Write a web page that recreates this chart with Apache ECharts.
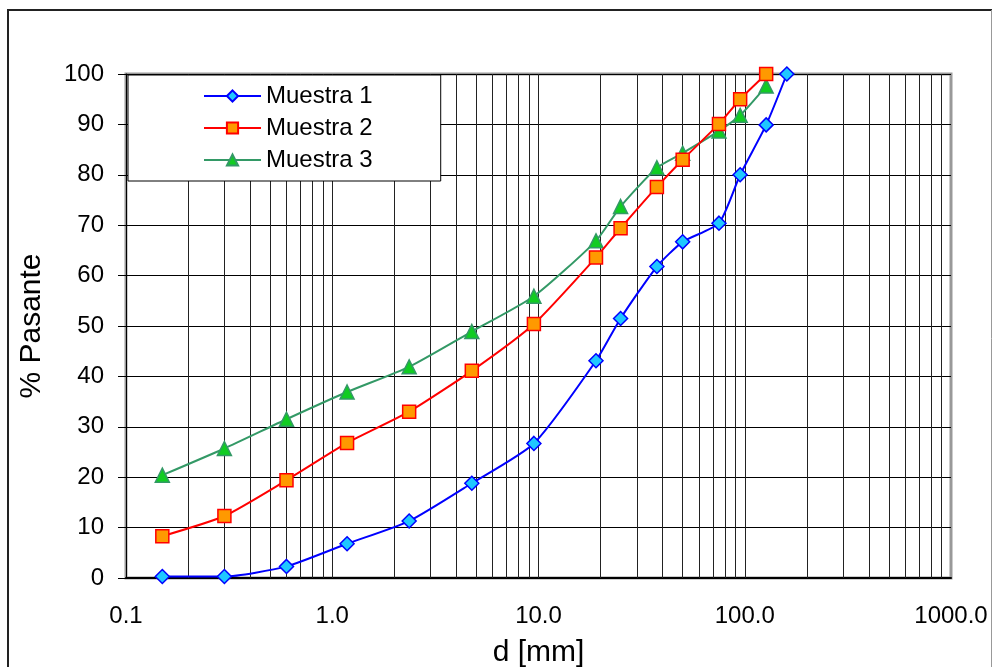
<!DOCTYPE html>
<html>
<head>
<meta charset="utf-8">
<script src="https://cdn.jsdelivr.net/npm/echarts@6/dist/echarts.min.js"></script>
<style>
  html, body { margin: 0; padding: 0; background: #fff; }
  #chart { width: 993px; height: 667px; }
</style>
</head>
<body>
<div id="chart"></div>
<script>
// sieve sizes (mm) and % passing
const sizes1 = [0.15, 0.3, 0.6, 1.18, 2.36, 4.75, 9.5, 19, 25, 37.5, 50, 75, 95, 127, 160];
const pass1 = [0.3, 0.3, 2.3, 6.8, 11.3, 18.8, 26.7, 43.1, 51.5, 61.8, 66.7, 70.4, 80.0, 89.9, 100];

const sizes2 = [0.15, 0.3, 0.6, 1.18, 2.36, 4.75, 9.5, 19, 25, 37.5, 50, 75, 95, 127];
const pass2 = [8.3, 12.3, 19.4, 26.8, 33.0, 41.1, 50.4, 63.6, 69.4, 77.6, 83.0, 90.1, 95.0, 100];

const sizes3 = [0.15, 0.3, 0.6, 1.18, 2.36, 4.75, 9.5, 19, 25, 37.5, 50, 75, 95, 127];
const pass3 = [20.4, 25.7, 31.5, 36.9, 41.9, 48.9, 55.9, 66.9, 73.7, 81.4, 84.3, 88.7, 91.8, 97.6];

const xLabels = { 0.1: "0.1", 1: "1.0", 10: "10.0", 100: "100.0", 1000: "1000.0" };

// vertical grid lines at 1..9 x each decade
const gridX = [];
[0.1, 1, 10, 100].forEach(function (dec) {
  for (let k = 1; k <= 9; k++) {
    if (k === 1 && dec === 0.1) continue;
    gridX.push(+(k * dec).toPrecision(3));
  }
});

const pairs = (xs, ys) => xs.map((x, i) => [x, ys[i]]);

const myChart = echarts.init(document.getElementById("chart"));
const font = "Liberation Sans, Arial, sans-serif";

const option = {
  animation: false,
  // outer chart frame
  graphic: [
    { type: "line", shape: { x1: 7, y1: 10, x2: 992, y2: 10 }, style: { stroke: "#222", lineWidth: 2 }, silent: true },
    { type: "line", shape: { x1: 8, y1: 10, x2: 8, y2: 667 }, style: { stroke: "#222", lineWidth: 2 }, silent: true },
    { type: "line", shape: { x1: 991.5, y1: 10, x2: 991.5, y2: 667 }, style: { stroke: "#999", lineWidth: 1 }, silent: true },
  ],
  grid: {
    left: 126,
    right: 42,
    top: 74,
    bottom: 89,
    outerBoundsMode: "none",
    containLabel: false,
    show: true,
    borderColor: "#999",
    borderWidth: 3,
  },
  legend: {
    orient: "vertical",
    left: 128,
    top: 75,
    padding: [9, 68, 9, 75],
    itemGap: 8,
    itemWidth: 57,
    itemHeight: 14,
    backgroundColor: "#fff",
    borderColor: "#000",
    borderWidth: 1,
    textStyle: { fontFamily: font, fontSize: 24, color: "#000" },
  },
  xAxis: {
    type: "log",
    logBase: 10,
    min: 0.1,
    max: 1000,
    name: "d [mm]",
    nameLocation: "middle",
    nameGap: 60,
    nameTextStyle: { fontFamily: font, fontSize: 30, color: "#000" },
    axisLine: { lineStyle: { color: "#000", width: 2 } },
    axisTick: { show: false },
    splitLine: { show: false },
    axisLabel: {
      margin: 26,
      fontFamily: font,
      fontSize: 24,
      color: "#000",
      formatter: (v) => xLabels[v] || "",
    },
  },
  yAxis: {
    type: "value",
    min: 0,
    max: 100,
    interval: 10,
    name: "% Pasante",
    nameLocation: "middle",
    nameGap: 79,
    nameTextStyle: { fontFamily: font, fontSize: 30, color: "#000" },
    axisLine: { show: true, lineStyle: { color: "#000", width: 1 } },
    axisTick: { show: true, length: 8, lineStyle: { color: "#000" } },
    splitLine: { lineStyle: { color: "#000", width: 1 } },
    axisLabel: { margin: 22, fontFamily: font, fontSize: 24, color: "#000" },
  },
  series: [
    {
      name: "Muestra 1",
      type: "line",
      data: pairs(sizes1, pass1),
      smooth: 0.2,
      symbol: "diamond",
      symbolSize: 14,
      lineStyle: { color: "#0000ff", width: 2 },
      itemStyle: { color: "#1fc8ff", borderColor: "#0000ff", borderWidth: 1.5 },
      z: 5,
      markLine: {
        silent: true,
        symbol: "none",
        label: { show: false },
        lineStyle: { color: "#222", width: 1, type: "solid" },
        data: gridX.map((v) => ({ xAxis: v })),
        z: 1,
      },
    },
    {
      name: "Muestra 2",
      type: "line",
      data: pairs(sizes2, pass2),
      smooth: 0.2,
      symbol: "rect",
      symbolSize: 13,
      lineStyle: { color: "#ff0000", width: 2 },
      itemStyle: { color: "#ff9900", borderColor: "#ff0000", borderWidth: 1.5 },
      z: 4,
    },
    {
      name: "Muestra 3",
      type: "line",
      data: pairs(sizes3, pass3),
      smooth: 0.2,
      symbol: "triangle",
      symbolSize: 14,
      lineStyle: { color: "#339966", width: 2 },
      itemStyle: { color: "#11cc22", borderColor: "#339966", borderWidth: 1.5 },
      z: 3,
    },
  ],
};

myChart.setOption(option);
</script>
</body>
</html>
